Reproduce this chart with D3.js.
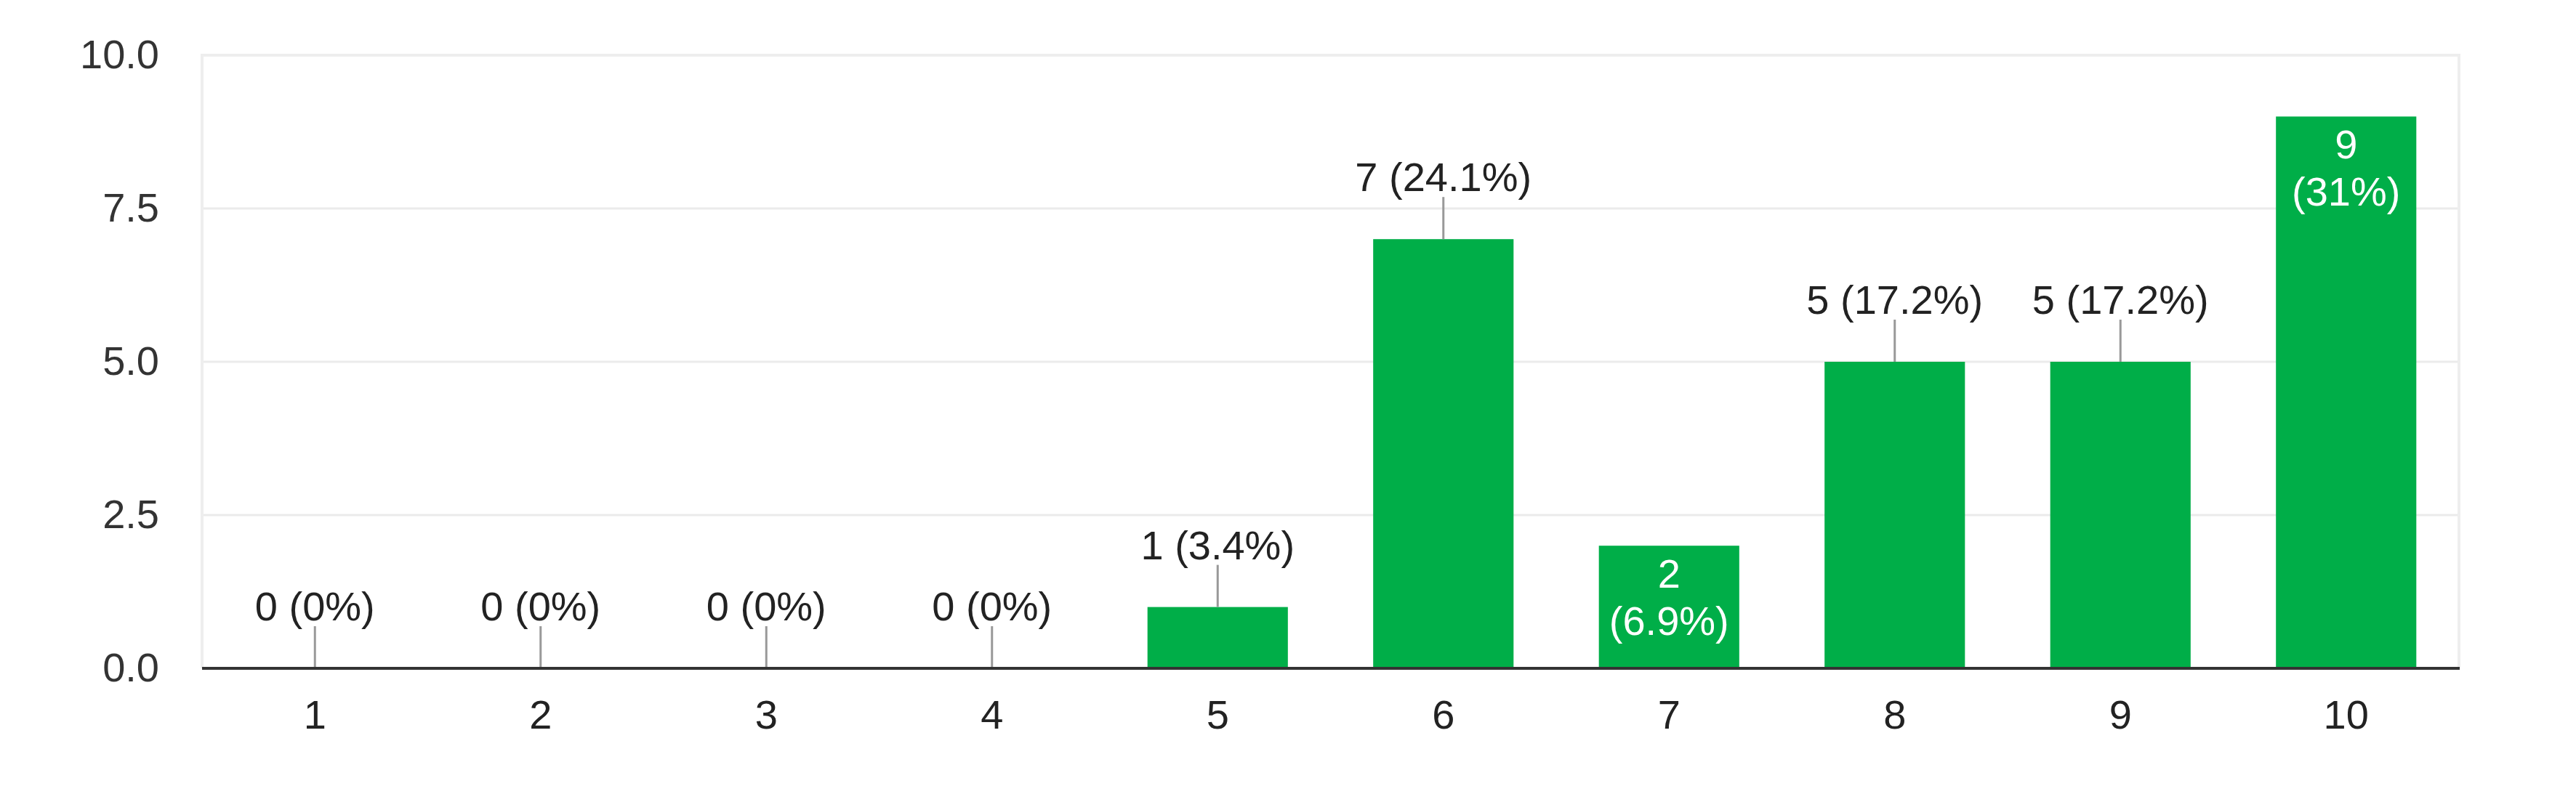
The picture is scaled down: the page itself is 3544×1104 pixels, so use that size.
<!DOCTYPE html>
<html>
<head>
<meta charset="utf-8">
<script src="https://cdn.jsdelivr.net/npm/d3@7"></script>
<style>
  html, body { margin: 0; padding: 0; background: #fff; }
  svg { display: block; }
  text { font-family: "Liberation Sans", Arial, Helvetica, sans-serif; }
</style>
</head>
<body>
<svg id="chart" width="3544" height="1104"></svg>
<script>
// ---- data ----
const categories = ["1", "2", "3", "4", "5", "6", "7", "8", "9", "10"];
const counts = [0, 0, 0, 0, 1, 7, 2, 5, 5, 9];
const yTicks = [0, 2.5, 5, 7.5, 10];
const insideLabelCategories = ["7", "10"];

// ---- layout ----
const W = 3544, H = 1104;
const margin = { top: 76, right: 161, bottom: 184, left: 278 };
const innerW = W - margin.left - margin.right;
const innerH = H - margin.top - margin.bottom;
const fontSize = 56;
const green = "#00ae48";

const total = d3.sum(counts);
const pct = v => {
  const p = Math.round(v / total * 1000) / 10;
  return (p % 1 === 0 ? p.toFixed(0) : p.toFixed(1)) + "%";
};

const svg = d3.select("#chart");
const g = svg.append("g").attr("transform", `translate(${margin.left},${margin.top})`);

const x = d3.scaleBand().domain(categories).range([0, innerW])
  .paddingInner(0.378).paddingOuter(0.189);
const y = d3.scaleLinear().domain([0, 10]).range([innerH, 0]);

// frame + gridlines
g.append("g").selectAll("line.grid").data(yTicks.filter(t => t > 0)).join("line")
  .attr("x1", 0).attr("x2", innerW)
  .attr("y1", d => y(d)).attr("y2", d => y(d))
  .attr("stroke", d => d === 10 ? "#eeeeee" : "#ebebeb")
  .attr("stroke-width", d => d === 10 ? 4 : 3);
g.append("line").attr("x1", 0).attr("x2", 0).attr("y1", y(10) - 2).attr("y2", y(0))
  .attr("stroke", "#eeeeee").attr("stroke-width", 4);
g.append("line").attr("x1", innerW).attr("x2", innerW).attr("y1", y(10) - 2).attr("y2", y(0))
  .attr("stroke", "#eeeeee").attr("stroke-width", 4);

// y axis
const yAxis = g.append("g")
  .call(d3.axisLeft(y).tickValues(yTicks).tickFormat(d3.format(".1f")).tickSize(0).tickPadding(59));
yAxis.select(".domain").remove();
yAxis.selectAll("text").attr("font-size", fontSize).attr("fill", "#333")
  .attr("font-family", "Liberation Sans, Arial, sans-serif");

// x axis
const xAxis = g.append("g").attr("transform", `translate(0,${innerH})`)
  .call(d3.axisBottom(x).tickSize(0).tickPadding(43));
xAxis.select(".domain").remove();
xAxis.selectAll("text").attr("font-size", fontSize).attr("fill", "#222")
  .attr("font-family", "Liberation Sans, Arial, sans-serif");

const data = categories.map((c, i) => ({ c, v: counts[i], inside: insideLabelCategories.includes(c) }));

// bars
g.append("g").selectAll("rect").data(data.filter(d => d.v > 0)).join("rect")
  .attr("x", d => x(d.c)).attr("width", x.bandwidth())
  .attr("y", d => y(d.v)).attr("height", d => y(0) - y(d.v))
  .attr("fill", green);

// baseline
g.append("line").attr("x1", 0).attr("x2", innerW + 1)
  .attr("y1", y(0)).attr("y2", y(0))
  .attr("stroke", "#333").attr("stroke-width", 4);

// outside annotations
const outside = data.filter(d => !d.inside);
g.append("g").selectAll("line").data(outside).join("line")
  .attr("x1", d => x(d.c) + x.bandwidth() / 2).attr("x2", d => x(d.c) + x.bandwidth() / 2)
  .attr("y1", d => y(d.v) - 58).attr("y2", d => y(d.v) - (d.v === 0 ? 2 : 0))
  .attr("stroke", "#999").attr("stroke-width", 3);
g.append("g").selectAll("text").data(outside).join("text")
  .attr("x", d => x(d.c) + x.bandwidth() / 2)
  .attr("y", d => y(d.v) - 66)
  .attr("text-anchor", "middle").attr("font-size", fontSize).attr("fill", "#222")
  .text(d => `${d.v} (${pct(d.v)})`);

// inside annotations
const inside = data.filter(d => d.inside);
const it = g.append("g").selectAll("text").data(inside).join("text")
  .attr("text-anchor", "middle").attr("font-size", fontSize).attr("fill", "#fff");
it.append("tspan").attr("x", d => x(d.c) + x.bandwidth() / 2).attr("y", d => y(d.v) + 58)
  .text(d => `${d.v}`);
it.append("tspan").attr("x", d => x(d.c) + x.bandwidth() / 2).attr("y", d => y(d.v) + 123)
  .text(d => `(${pct(d.v)})`);
</script>
</body>
</html>
